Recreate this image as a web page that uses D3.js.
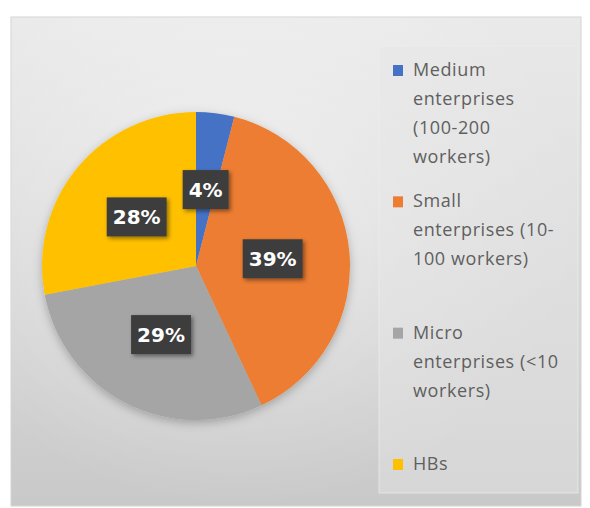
<!DOCTYPE html>
<html>
<head>
<meta charset="utf-8">
<script src="https://cdn.jsdelivr.net/npm/d3@7"></script>
<style>
  html, body { margin: 0; padding: 0; background: #ffffff; }
  svg { display: block; }
</style>
</head>
<body>
<svg id="chart" width="590" height="508"></svg>
<script>
// ---- data ----
const categories = [
  "Medium enterprises (100-200 workers)",
  "Small enterprises (10-100 workers)",
  "Micro enterprises (<10 workers)",
  "HBs"
];
const values = [4, 39, 29, 28];
const colors = ["#4472C4", "#ED7D31", "#A5A5A5", "#FFC000"];
const legendLines = [
  ["Medium", "enterprises", "(100-200", "workers)"],
  ["Small", "enterprises (10-", "100 workers)"],
  ["Micro", "enterprises (<10", "workers)"],
  ["HBs"]
];

const svg = d3.select("#chart");
const defs = svg.append("defs");

// background gradient
const bg = defs.append("linearGradient").attr("id", "bgGrad")
  .attr("x1", 0).attr("y1", 0).attr("x2", 0).attr("y2", 1);
bg.append("stop").attr("offset", "0%").attr("stop-color", "#eaeaea");
bg.append("stop").attr("offset", "100%").attr("stop-color", "#c9c9c9");

const glow = defs.append("radialGradient").attr("id", "glow")
  .attr("cx", "0.4").attr("cy", "0.4").attr("r", "0.6");
glow.append("stop").attr("offset", "0%").attr("stop-color", "#ffffff").attr("stop-opacity", 0.45);
glow.append("stop").attr("offset", "100%").attr("stop-color", "#ffffff").attr("stop-opacity", 0);

const shadow = defs.append("filter").attr("id", "shadow")
  .attr("x", "-30%").attr("y", "-30%").attr("width", "160%").attr("height", "160%");
shadow.append("feDropShadow").attr("dx", 2).attr("dy", 2).attr("stdDeviation", 2)
  .attr("flood-color", "#000").attr("flood-opacity", 0.45);

const pieShadow = defs.append("filter").attr("id", "pieShadow")
  .attr("x", "-20%").attr("y", "-20%").attr("width", "140%").attr("height", "140%");
pieShadow.append("feDropShadow").attr("dx", 0).attr("dy", 3).attr("stdDeviation", 5)
  .attr("flood-color", "#000").attr("flood-opacity", 0.25);

// panel
svg.append("rect").attr("x", 11).attr("y", 17).attr("width", 570).attr("height", 489)
  .attr("fill", "url(#bgGrad)").attr("stroke", "#d4d4d4").attr("stroke-width", 1);
svg.append("rect").attr("x", 11).attr("y", 17).attr("width", 570).attr("height", 489)
  .attr("fill", "url(#glow)");

// legend box
svg.append("rect").attr("x", 379).attr("y", 46).attr("width", 199).attr("height", 447)
  .attr("fill", "#e6e6e6").attr("fill-opacity", 0.45)
  .attr("stroke", "#eeeeee").attr("stroke-opacity", 0.7).attr("stroke-width", 1);

// pie
const cx = 196, cy = 266, r = 154;
const pie = d3.pie().sort(null).value(d => d)(values);
const arc = d3.arc().innerRadius(0).outerRadius(r);
const g = svg.append("g").attr("transform", `translate(${cx},${cy})`);

g.append("g").attr("filter", "url(#pieShadow)")
  .selectAll("path").data(pie).join("path")
  .attr("d", arc)
  .attr("fill", (d, i) => colors[i]);

// labels
const lab = g.selectAll("g.lab").data(pie).join("g").attr("class", "lab")
  .attr("transform", d => `translate(${arc.centroid(d)})`);
lab.each(function(d) {
  const sel = d3.select(this);
  const txt = sel.append("text")
    .attr("text-anchor", "middle").attr("dy", "0.36em")
    .attr("font-family", "'DejaVu Sans', Verdana, sans-serif")
    .attr("font-weight", "bold").attr("font-size", 20)
    .attr("fill", "#ffffff")
    .text(d.data + "%");
  const w = txt.node().getComputedTextLength() + 12;
  sel.insert("rect", "text")
    .attr("x", -w / 2).attr("y", -19.5).attr("width", w).attr("height", 39)
    .attr("fill", "#3d3d3d").attr("filter", "url(#shadow)");
});

// legend
const itemY = d3.scaleLinear().domain([0, categories.length - 1]).range([76, 470]);
const leg = svg.append("g").selectAll("g").data(categories).join("g")
  .attr("transform", (d, i) => `translate(393,${itemY(i)})`);
leg.append("rect").attr("x", 0).attr("y", -11).attr("width", 10).attr("height", 11)
  .attr("fill", (d, i) => colors[i]);
leg.append("text")
  .attr("font-family", "'Open Sans', sans-serif").attr("font-size", 18)
  .attr("letter-spacing", 0.6)
  .attr("fill", "#5f5f5f")
  .selectAll("tspan").data((d, i) => legendLines[i]).join("tspan")
  .attr("x", 20).attr("y", (d, j) => j * 29)
  .text(d => d);
</script>
</body>
</html>
